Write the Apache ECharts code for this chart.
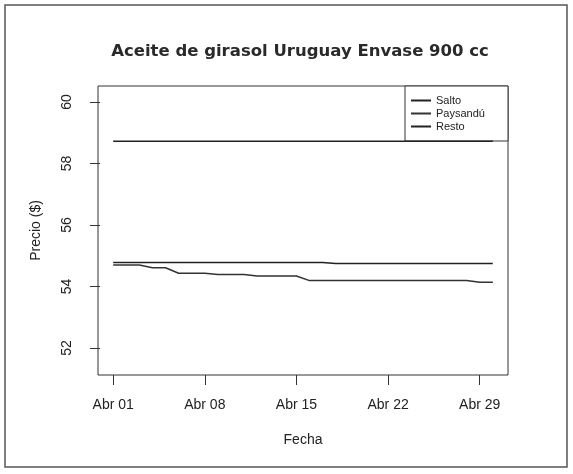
<!DOCTYPE html>
<html>
<head>
<meta charset="utf-8">
<script src="https://cdn.jsdelivr.net/npm/echarts@6/dist/echarts.min.js"></script>
<style>
html,body{margin:0;padding:0;background:#fff;}
#c{width:573px;height:474px;}
</style>
</head>
<body>
<div id="c"></div>
<script>
var days = [1,2,3,4,5,6,7,8,9,10,11,12,13,14,15,16,17,18,19,20,21,22,23,24,25,26,27,28,29,30];
var salto = [54.78,54.78,54.78,54.78,54.78,54.78,54.78,54.78,54.78,54.78,54.78,54.78,54.78,54.78,54.78,54.78,54.78,54.75,54.75,54.75,54.75,54.75,54.75,54.75,54.75,54.75,54.75,54.75,54.75,54.75];
var paysandu = [54.70,54.70,54.70,54.61,54.61,54.43,54.43,54.43,54.39,54.39,54.39,54.34,54.34,54.34,54.34,54.19,54.19,54.19,54.19,54.19,54.19,54.19,54.19,54.19,54.19,54.19,54.19,54.19,54.14,54.14];
var resto = [58.72,58.72,58.72,58.72,58.72,58.72,58.72,58.72,58.72,58.72,58.72,58.72,58.72,58.72,58.72,58.72,58.72,58.72,58.72,58.72,58.72,58.72,58.72,58.72,58.72,58.72,58.72,58.72,58.72,58.72];
var xTickDays = [1,8,15,22,29];
var xTickLabels = ['Abr 01','Abr 08','Abr 15','Abr 22','Abr 29'];
var yTicks = [52,54,56,58,60];

function pairs(vals){ return days.map(function(d,i){ return [d, vals[i]]; }); }

var chart = echarts.init(document.getElementById('c'));
var font = 'Liberation Sans, Arial, sans-serif';
chart.setOption({
  animation: false,
  textStyle: {fontFamily: font},
  title: {
    text: 'Aceite de girasol Uruguay Envase 900 cc',
    left: 295, top: 38, textAlign: 'center',
    textStyle: {fontFamily: 'DejaVu Sans', fontSize: 16.5, fontWeight: 'bold', color: '#2a2a2a'}
  },
  grid: {left: 98, right: 65, top: 86, bottom: 99, show: true, borderColor: '#333', borderWidth: 1, backgroundColor: 'transparent'},
  xAxis: {
    type: 'value', min: -0.16, max: 31.16,
    name: 'Fecha', nameLocation: 'middle', nameGap: 58,
    nameTextStyle: {fontFamily: font, fontSize: 14, color: '#222'},
    axisLine: {show: false},
    axisTick: {show: true, inside: false, length: 10, customValues: xTickDays, lineStyle: {color: '#333'}},
    axisLabel: {customValues: xTickDays, margin: 23, fontSize: 14, color: '#222', fontFamily: font,
      formatter: function(v){ var i = xTickDays.indexOf(v); return i >= 0 ? xTickLabels[i] : ''; }},
    splitLine: {show: false}
  },
  yAxis: {
    type: 'value', min: 51.12, max: 60.52,
    name: 'Precio ($)', nameLocation: 'middle', nameGap: 55, nameRotate: 90,
    nameTextStyle: {fontFamily: font, fontSize: 14, color: '#222'},
    axisLine: {show: false},
    axisTick: {show: true, inside: false, length: 10, customValues: yTicks, lineStyle: {color: '#333'}},
    axisLabel: {customValues: yTicks, rotate: 90, margin: 24, fontSize: 14, color: '#222', fontFamily: font},
    splitLine: {show: false}
  },
  legend: {
    orient: 'vertical', left: 411, top: 95, itemGap: 2, itemWidth: 20, itemHeight: 2,
    icon: 'rect', padding: 0, z: 20,
    textStyle: {fontFamily: font, fontSize: 11, color: '#222'},
    data: ['Salto','Paysandú','Resto']
  },
  graphic: [
    {type: 'rect', shape: {x: 405, y: 86, width: 103, height: 55}, style: {fill: '#fff', stroke: '#333', lineWidth: 1}, z: 1},
    {type: 'rect', shape: {x: 5, y: 5, width: 562, height: 462}, style: {fill: 'none', stroke: '#555', lineWidth: 1.5}, silent: true, z: 1}
  ],
  series: [
    {name: 'Salto', type: 'line', data: pairs(salto), showSymbol: false, lineStyle: {color: '#222', width: 1.5}, itemStyle: {color: '#222'}},
    {name: 'Paysandú', type: 'line', data: pairs(paysandu), showSymbol: false, lineStyle: {color: '#333', width: 1.5}, itemStyle: {color: '#333'}},
    {name: 'Resto', type: 'line', data: pairs(resto), showSymbol: false, lineStyle: {color: '#222', width: 1.5}, itemStyle: {color: '#222'}}
  ]
});
</script>
</body>
</html>
